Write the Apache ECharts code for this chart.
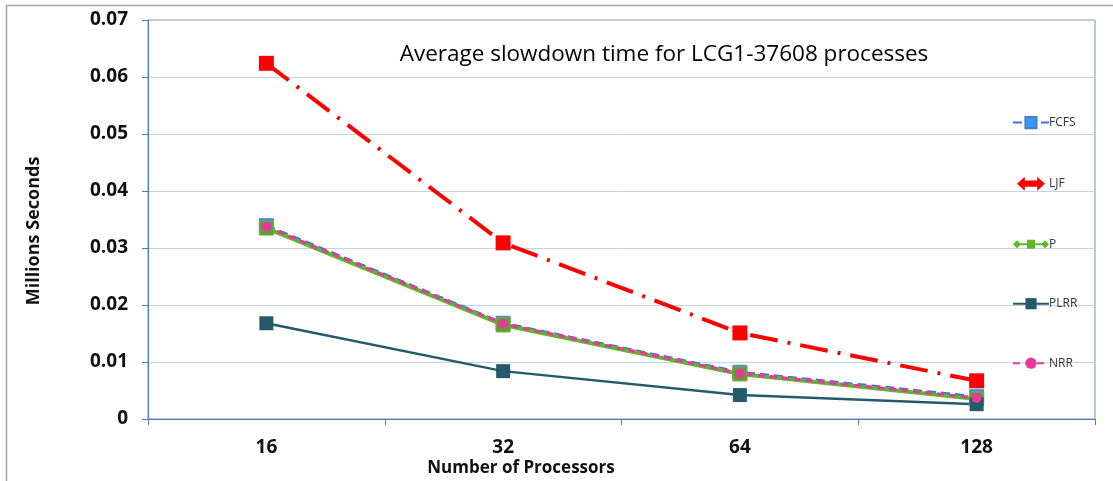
<!DOCTYPE html>
<html>
<head>
<meta charset="utf-8">
<script src="https://cdn.jsdelivr.net/npm/echarts@6/dist/echarts.min.js"></script>
<style>
  html, body { margin: 0; padding: 0; background: #fff; }
  #chart { width: 1113px; height: 481px; }
</style>
</head>
<body>
<div id="chart"></div>
<script>
// Processor counts on the x axis
const processors = ['16', '32', '64', '128'];
// Average slowdown (millions of seconds) per scheduling policy
const fcfs = [0.0339, 0.0168, 0.0082, 0.0039];
const ljf  = [0.0624, 0.0309, 0.0151, 0.0067];
const p    = [0.0335, 0.0165, 0.0079, 0.0035];
const plrr = [0.0168, 0.0084, 0.0042, 0.0026];
const nrr  = [0.0337, 0.0167, 0.0080, 0.0037];
// Y axis ticks
const yTicks = [0, 0.01, 0.02, 0.03, 0.04, 0.05, 0.06, 0.07];

const FONT = '"Open Sans", "Noto Sans", sans-serif';
// Legend glyphs: red double arrow for LJF, diamond-ended line for P
const doubleArrow = 'path://M0,9 L10,0 L10,5 L26,5 L26,0 L36,9 L26,18 L26,13 L10,13 L10,18 Z';
const diamondLine = 'path://M0,7 L4,3 L8,7 L4,11 Z M6,6 L30,6 L30,8 L6,8 Z M14,2.5 L22,2.5 L22,11.5 L14,11.5 Z M28,7 L32,3 L36,7 L32,11 Z';

const chart = echarts.init(document.getElementById('chart'), null, { renderer: 'canvas' });

chart.setOption({
  animation: false,
  backgroundColor: '#ffffff',
  title: [
    {
      text: 'Average slowdown time for LCG1-37608 processes',
      left: 659, top: 38, textAlign: 'center',
      textStyle: { fontFamily: FONT, fontSize: 22.5, fontWeight: 'normal', color: '#000' }
    },
    {
      text: 'Number of Processors',
      left: 516, top: 455, textAlign: 'center',
      textStyle: { fontFamily: FONT, fontSize: 17, fontWeight: 'bold', color: '#111' }
    }
  ],
  graphic: [
    {
      type: 'rect', silent: true, z: -1,
      shape: { x: 6.5, y: 5.5, width: 1130, height: 500 },
      style: { fill: 'none', stroke: '#a6a6a6', lineWidth: 1.5 }
    },
    {
      type: 'text', silent: true,
      x: 34, y: 231, rotation: Math.PI / 2,
      style: {
        text: 'Millions Seconds', align: 'center', verticalAlign: 'middle',
        font: 'bold 18px ' + FONT, fill: '#111'
      }
    }
  ],
  grid: {
    left: 148, top: 20, right: 18, bottom: 62,
    show: true, borderColor: '#7f93b0', borderWidth: 1
  },
  legend: {
    orient: 'vertical',
    left: 1007, top: 111,
    itemWidth: 36, itemHeight: 14, itemGap: 47.5,
    textStyle: { fontFamily: FONT, fontSize: 12, color: '#333', padding: [0, 0, 0, -5] },
    data: [
      { name: 'FCFS' },
      { name: 'LJF', icon: doubleArrow },
      { name: 'P', icon: diamondLine, itemStyle: { color: '#5db82c', borderWidth: 0 } },
      { name: 'PLRR' },
      { name: 'NRR' }
    ]
  },
  xAxis: {
    type: 'category',
    data: processors,
    boundaryGap: true,
    axisLine: { lineStyle: { color: '#4a7ebb', width: 1 } },
    axisTick: { show: true, length: 6, lineStyle: { color: '#4a7ebb' } },
    axisLabel: { fontFamily: FONT, fontSize: 19, fontWeight: 'bold', color: '#111', margin: 19 },
    splitLine: { show: false }
  },
  yAxis: {
    type: 'value',
    min: yTicks[0], max: yTicks[yTicks.length - 1], interval: 0.01,
    axisLine: { show: true, lineStyle: { color: '#4a7ebb', width: 1 } },
    axisTick: { show: true, length: 6, lineStyle: { color: '#4a7ebb' } },
    axisLabel: {
      fontFamily: FONT, fontSize: 19, fontWeight: 'bold', color: '#111', margin: 20,
      formatter: v => (v === 0 ? '0' : v.toFixed(2))
    },
    splitLine: { lineStyle: { color: '#c5d2e0', width: 1 } }
  },
  series: [
    {
      name: 'FCFS', type: 'line', data: fcfs,
      symbol: 'rect', symbolSize: 14,
      lineStyle: { color: '#3b72dd', width: 3, type: [9, 5] },
      itemStyle: { color: '#2f9bf5', borderColor: '#4f7fc0', borderWidth: 1 }
    },
    {
      name: 'LJF', type: 'line', data: ljf,
      symbol: 'rect', symbolSize: 15,
      lineStyle: { color: '#ff0000', width: 4, type: [28, 10, 3, 10] },
      itemStyle: { color: '#ff0000' }
    },
    {
      name: 'P', type: 'line', data: p,
      symbol: 'rect', symbolSize: 14,
      lineStyle: { color: '#5db82c', width: 4 },
      itemStyle: { color: '#4ea82a', borderColor: '#9a9a40', borderWidth: 1 }
    },
    {
      name: 'PLRR', type: 'line', data: plrr,
      symbol: 'rect', symbolSize: 14,
      lineStyle: { color: '#255a6b', width: 2.5 },
      itemStyle: { color: '#255a6b' }
    },
    {
      name: 'NRR', type: 'line', data: nrr,
      symbol: 'circle', symbolSize: 10,
      lineStyle: { color: '#e8399b', width: 3, type: [7, 5] },
      itemStyle: { color: '#e8399b' }
    }
  ]
});
</script>
</body>
</html>
